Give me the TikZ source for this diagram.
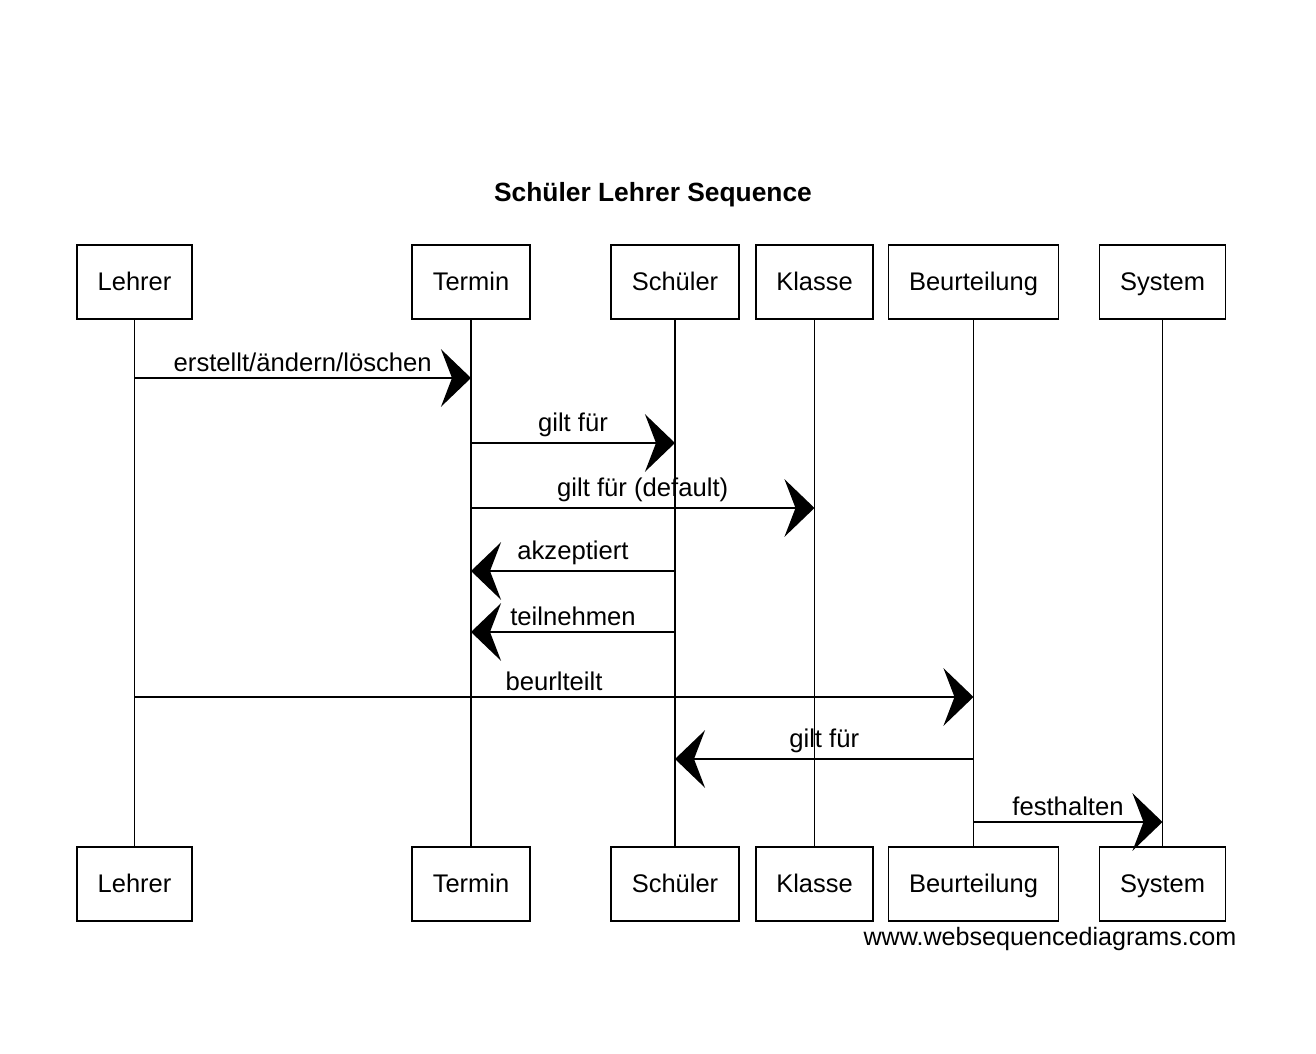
\documentclass[tikz,border=0pt]{standalone}
\usepackage{fontspec}
\setmainfont{Liberation Sans}
\usetikzlibrary{arrows.meta}
\tikzset{
  actor/.style    = {draw, line width=1pt, fill=white, minimum height=1.48cm,
                     inner xsep=0.41cm, text height=2.2ex, text depth=0.4ex,
                     font=\fontsize{14.5}{17}\selectfont},
  lifeline/.style = {line width=0.8pt, black},
  msg/.style      = {-{Stealth[length=0.6cm, width=1.15cm, inset=0.22cm]},
                     line width=1.2pt, black},
  msglbl/.style   = {above, inner sep=3pt, font=\fontsize{14.6}{17}\selectfont},
}

\begin{document}
\begin{tikzpicture}[x=0.02cm, y=-0.02cm]
  \useasboundingbox (0,0) rectangle (1316,1054);

  \node[font=\bfseries\fontsize{15}{18}\selectfont] (title) at (653,195)
    {Schüler Lehrer Sequence};

  % participants, top and bottom, with their lifelines
  \foreach \nm/\x/\txt in {lehrer/134.5/Lehrer, termin/471/Termin,
                           schueler/675/Schüler, klasse/814.5/Klasse,
                           beurt/973.5/Beurteilung, system/1162.5/System} {
    \node[actor] (\nm T) at (\x,282) {\txt};
    \node[actor] (\nm B) at (\x,884) {\txt};
    \draw[lifeline] (\nm T) -- (\nm B);
  }

  % message levels
  \coordinate (m1) at (0,378);
  \coordinate (m2) at (0,443);
  \coordinate (m3) at (0,508);
  \coordinate (m4) at (0,571);
  \coordinate (m5) at (0,632);
  \coordinate (m6) at (0,697);
  \coordinate (m7) at (0,759);
  \coordinate (m8) at (0,822);

  \draw[msg] (lehrerT |- m1) -- (terminT |- m1)
    node[msglbl, midway] {erstellt/ändern/löschen};
  \draw[msg] (terminT |- m2) -- (schuelerT |- m2)
    node[msglbl, midway] {gilt für};
  \draw[msg] (terminT |- m3) -- (klasseT |- m3)
    node[msglbl, midway] {gilt für (default)};
  \draw[msg] (schuelerT |- m4) -- (terminT |- m4)
    node[msglbl, midway] {akzeptiert};
  \draw[msg] (schuelerT |- m5) -- (terminT |- m5)
    node[msglbl, midway] {teilnehmen};
  \draw[msg] (lehrerT |- m6) -- (beurtT |- m6)
    node[msglbl, midway] {beurlteilt};
  \draw[msg] (beurtT |- m7) -- (schuelerT |- m7)
    node[msglbl, midway] {gilt für};
  \draw[msg] (beurtT |- m8) -- (systemT |- m8)
    node[msglbl, midway] {festhalten};

  \node[font=\fontsize{14.3}{17}\selectfont] (wsd) at (1050,939)
    {www.websequencediagrams.com};
\end{tikzpicture}
\end{document}
